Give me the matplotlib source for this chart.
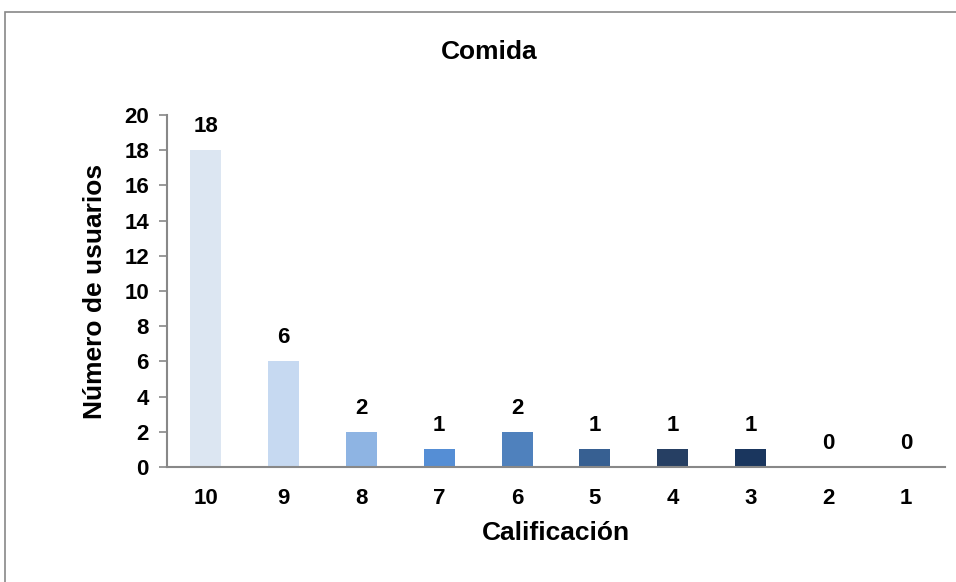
import matplotlib
matplotlib.use("Agg")
import matplotlib.pyplot as plt
from matplotlib.patches import Rectangle

categories = ["10", "9", "8", "7", "6", "5", "4", "3", "2", "1"]
users = [18, 6, 2, 1, 2, 1, 1, 1, 0, 0]
bar_colors = ["#DCE6F2", "#C6D9F1", "#8EB4E3", "#558ED5", "#4F81BD",
              "#376092", "#263F63", "#1A365E", "#17375E", "#17375E"]
y_ticks = [0, 2, 4, 6, 8, 10, 12, 14, 16, 18, 20]

plt.rcParams["font.family"] = ["Liberation Sans", "DejaVu Sans"]
plt.rcParams["font.weight"] = "bold"

fig = plt.figure(figsize=(9.56, 5.82), dpi=100)

# outer chart-area frame
fig.patches.append(Rectangle((5 / 956, -0.1), 1.2, 1.1 - 12 / 582,
                             transform=fig.transFigure, fill=False,
                             edgecolor="#888888", linewidth=1.2))

ax = fig.add_axes([167 / 956, 1 - 467 / 582, (945 - 167) / 956, (467 - 115) / 582])
x = range(len(categories))
ax.bar(x, users, width=0.4, color=bar_colors)

for xi, v in zip(x, users):
    ax.text(xi, v + 1.35, str(v), ha="center", va="center",
            fontsize=16, fontweight="bold")

ax.set_xlim(-0.5, len(categories) - 0.5)
ax.set_ylim(0, 20)
ax.set_yticks(y_ticks)
ax.set_xticks(list(x))
ax.set_xticklabels(categories)
ax.tick_params(axis="y", length=6, width=1.2, color="#888888", labelsize=16, pad=7)
ax.tick_params(axis="x", length=0, labelsize=16, pad=15)
for lbl in ax.get_xticklabels() + ax.get_yticklabels():
    lbl.set_fontweight("bold")

for side in ["top", "right"]:
    ax.spines[side].set_visible(False)
for side in ["left", "bottom"]:
    ax.spines[side].set_color("#888888")
    ax.spines[side].set_linewidth(1.5)

ax.set_xlabel("Calificación", fontsize=19, fontweight="bold", va="center")
ax.xaxis.set_label_coords(0.5, -(533 - 467) / 352)
ax.set_ylabel("Número de usuarios", fontsize=19, fontweight="bold", va="center")
ax.yaxis.set_label_coords(-(167 - 95) / 778, 0.5)
fig.text(489 / 956, 1 - 52 / 582, "Comida", ha="center", va="center",
         fontsize=19, fontweight="bold")

fig.savefig("out.png", dpi=100)
